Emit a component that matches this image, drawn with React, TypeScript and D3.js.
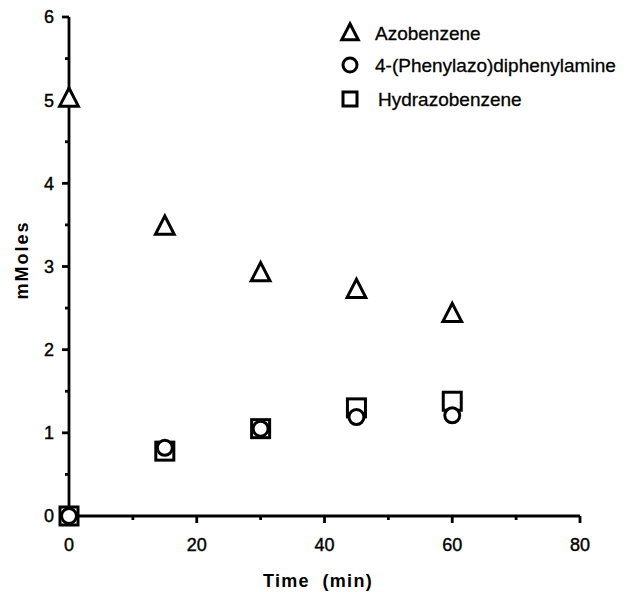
import * as d3 from "d3";

const times = [0, 15, 30, 45, 60];
const azobenzene = [5.02, 3.48, 2.92, 2.72, 2.43];
const phenylazo = [0, 0.82, 1.05, 1.19, 1.21];
const hydrazo = [0, 0.78, 1.05, 1.3, 1.38];
const xTicks = [0, 20, 40, 60, 80];
const yTicks = [0, 1, 2, 3, 4, 5, 6];
const legendLabels = ["Azobenzene", "4-(Phenylazo)diphenylamine", "Hydrazobenzene"];

const W = 631;
const H = 592;
const FONT = "'Liberation Sans', Arial, Helvetica, sans-serif";

const triPath = (cx: number, cy: number, s: number) =>
  `M${cx},${cy - s * 0.62} L${cx + s * 0.55},${cy + s * 0.45} L${cx - s * 0.55},${cy + s * 0.45} Z`;

export default function App() {
  const x = d3.scaleLinear().domain([0, 80]).range([69, 580]);
  const y = d3.scaleLinear().domain([0, 6]).range([516, 17]);

  const minorX = d3.range(10, 80, 20);
  const minorY = d3.range(0.5, 6, 1);

  const legendX = 350;
  const legendY = [33, 65, 99];

  return (
    <svg
      width={W}
      height={H}
      style={{ position: "absolute", left: 0, top: 0, background: "#fff" }}
      fontFamily={FONT}
    >
      {/* axes */}
      <g stroke="#000" strokeWidth={2.8} fill="none">
        <line x1={x(0)} x2={x(0)} y1={y(0)} y2={y(6)} />
        <line x1={x(0)} x2={x(80)} y1={y(0)} y2={y(0)} />
        {yTicks.map((t) => (
          <line key={"yt" + t} x1={x(0) - 7} x2={x(0)} y1={y(t)} y2={y(t)} />
        ))}
        {minorY.map((t) => (
          <line key={"ym" + t} x1={x(0) - 4} x2={x(0)} y1={y(t)} y2={y(t)} />
        ))}
        {xTicks.map((t) => (
          <line key={"xt" + t} x1={x(t)} x2={x(t)} y1={y(0)} y2={y(0) + 7} />
        ))}
        {minorX.map((t) => (
          <line key={"xm" + t} x1={x(t)} x2={x(t)} y1={y(0)} y2={y(0) + 4} />
        ))}
      </g>

      {/* tick labels */}
      <g fontSize={18} fill="#000" stroke="#000" strokeWidth={0.4}>
        {yTicks.map((t) => (
          <text key={"yl" + t} x={x(0) - 15} y={y(t)} dy="0.36em" textAnchor="end">
            {t}
          </text>
        ))}
        {xTicks.map((t) => (
          <text key={"xl" + t} x={x(t)} y={y(0) + 35} textAnchor="middle">
            {t}
          </text>
        ))}
      </g>

      {/* axis titles */}
      <text x={318} y={587} textAnchor="middle" fontSize={18} fontWeight="bold" letterSpacing={1.3}>
        Time{"\u00a0\u00a0"}(min)
      </text>
      <text
        transform={`translate(28,260) rotate(-90)`}
        textAnchor="middle"
        fontSize={18}
        fontWeight="bold"
        letterSpacing={2}
      >
        mMoles
      </text>

      {/* data */}
      <g stroke="#000" strokeWidth={3} fill="#fff">
        {times.map((t, i) => (
          <rect key={"sq" + i} x={x(t) - 9} y={y(hydrazo[i]) - 9} width={18} height={18} />
        ))}
        {times.map((t, i) => (
          <circle key={"ci" + i} cx={x(t)} cy={y(phenylazo[i])} r={7.5} />
        ))}
        {times.map((t, i) => (
          <path key={"tr" + i} d={triPath(x(t), y(azobenzene[i]), 17)} strokeLinejoin="miter" />
        ))}
      </g>

      {/* legend */}
      <g stroke="#000" strokeWidth={3} fill="#fff">
        <path d={triPath(legendX, legendY[0], 15)} />
        <circle cx={legendX} cy={legendY[1]} r={7} />
        <rect x={legendX - 7} y={legendY[2] - 7} width={14} height={14} />
      </g>
      <g fontSize={19} fill="#000" stroke="#000" strokeWidth={0.3}>
        {legendLabels.map((l, i) => (
          <text key={l} x={i === 2 ? 378 : 375} y={legendY[i]} dy="0.36em">
            {l}
          </text>
        ))}
      </g>
    </svg>
  );
}
